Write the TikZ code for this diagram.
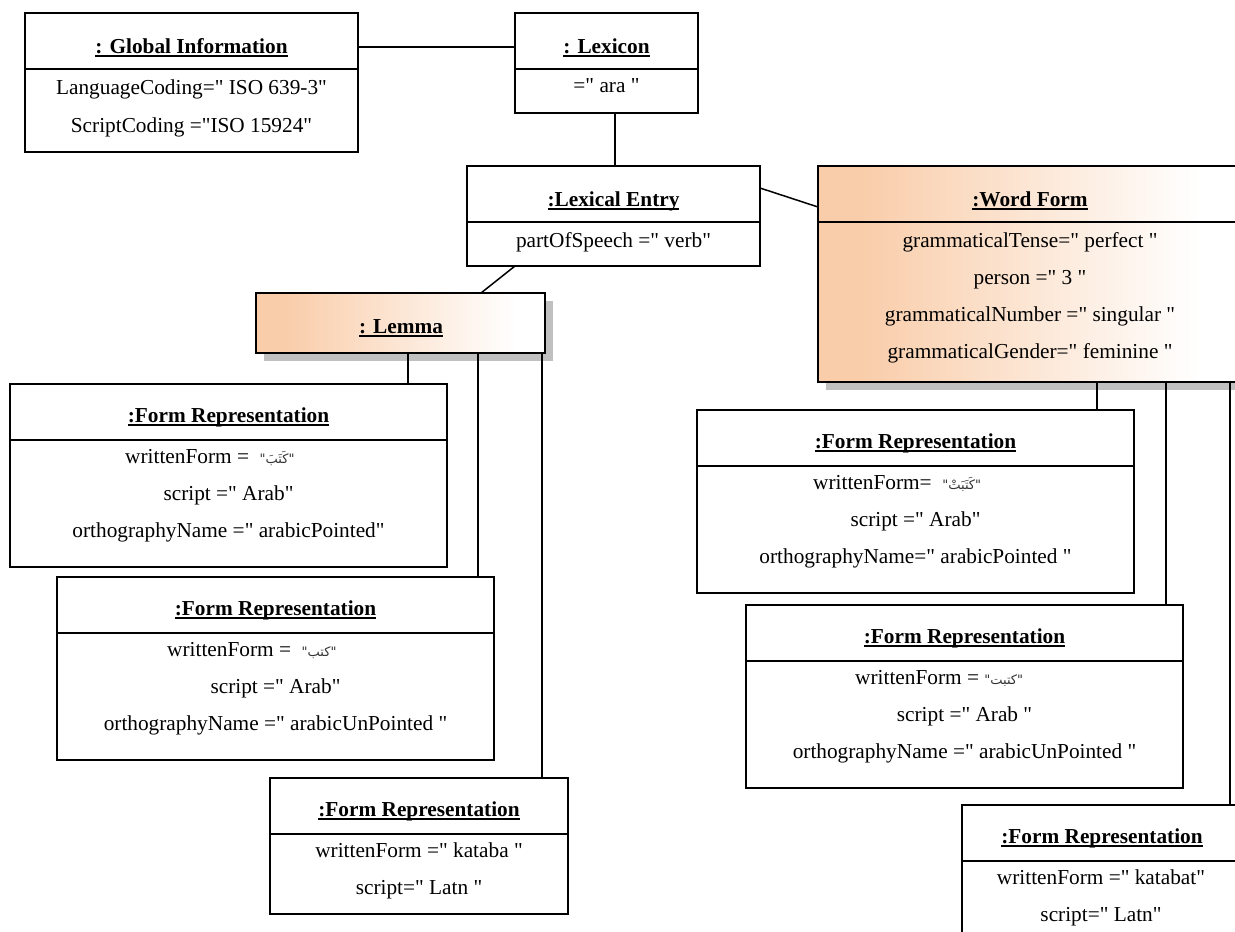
\documentclass[tikz,border=0pt]{standalone}
\usepackage{fontspec}
\setmainfont{Liberation Serif}[Ligatures=TeXOff]
\newfontfamily\arabicfont[Script=Arabic]{DejaVu Sans}
\TeXXeTstate=1
\usetikzlibrary{shadows}

\definecolor{peach}{RGB}{249,205,170}
\definecolor{shadowgray}{RGB}{192,192,192}
% horizontal fade used for the highlighted objects (25bp..75bp spans the box)
\pgfdeclarehorizontalshading{peachfade}{100bp}{color(0bp)=(peach); color(25bp)=(peach); color(30bp)=(peach); color(70bp)=(white); color(75bp)=(white); color(100bp)=(white)}

% underlined bold object title
\newsavebox{\ttlbox}
\newcommand{\objtitle}[1]{\sbox{\ttlbox}{#1}\usebox{\ttlbox}\llap{\rule[-4pt]{\wd\ttlbox}{1.8pt}}}
% small Arabic word in quotes
\newcommand{\arabword}[1]{{\arabicfont\fontsize{13}{15}\selectfont\color{black!80}"\beginR #1\endR"}}

% object box: [style] name, x1, y1, x2, y2
\newcommand{\objbox}[6][]{%
  \node[obj,#1,minimum width={(#5-#3)*1pt},minimum height={(#6-#4)*1pt}] (#2) at ({(#3+#5)/2},{(#4+#6)/2}) {};}
% compartment divider, offset below the top edge
\newcommand{\objdivider}[2]{\draw[link] ([yshift=-#2pt]#1.north west) -- ([yshift=-#2pt]#1.north east);}

\begin{document}
\begin{tikzpicture}[x=1pt,y=-1pt,
  font=\fontsize{21.3}{25}\selectfont,
  obj/.style={draw, line width=1.5pt, fill=white, inner sep=0pt, outer sep=0pt},
  faded/.style={shading=peachfade},
  shadowed/.style={drop shadow={shadow xshift=8pt,shadow yshift=-8pt,fill=shadowgray,opacity=1}},
  ttl/.style={anchor=base, inner sep=0pt, font=\bfseries\fontsize{21.3}{25}\selectfont},
  attr/.style={anchor=base, inner sep=0pt},
  attrw/.style={anchor=base west, inner sep=0pt},
  link/.style={line width=1.5pt}]

\useasboundingbox (0,0) rectangle (1235,932);
\fill[white] (0,0) rectangle (1235,932);
\clip (0,0) rectangle (1235,932);

% ---- Global Information ----
\objbox{gi}{25}{13}{358}{152}
\objdivider{gi}{56}
\node[ttl] (gi-t) at (191.5,53) {\objtitle{: Global Information}};
\node[attr] (gi-a1) at (191.5,94) {LanguageCoding=" ISO 639-3"};
\node[attr] (gi-a2) at (191.5,132) {ScriptCoding ="ISO 15924"};

% ---- Lexicon ----
\objbox{lex}{515}{13}{698}{113}
\objdivider{lex}{56}
\node[ttl] (lex-t) at (606.5,53) {\objtitle{: Lexicon}};
\node[attr] (lex-a1) at (606.5,92) {=" ara "};

% ---- Lexical Entry ----
\objbox{le}{467}{166}{760}{266}
\objdivider{le}{56}
\node[ttl] (le-t) at (613.5,206) {\objtitle{:Lexical Entry}};
\node[attr] (le-a1) at (613.5,247) {partOfSpeech =" verb"};

% ---- Word Form ----
\objbox[faded,shadowed]{wf}{818}{166}{1242}{382}
\objdivider{wf}{56}
\node[ttl] (wf-t) at (1030,206) {\objtitle{:Word Form}};
\node[attr] (wf-a1) at (1030,247) {grammaticalTense=" perfect "};
\node[attr] (wf-a2) at (1030,284) {person =" 3 "};
\node[attr] (wf-a3) at (1030,321) {grammaticalNumber =" singular "};
\node[attr] (wf-a4) at (1030,358) {grammaticalGender=" feminine "};

% ---- Lemma ----
\objbox[faded,shadowed]{lem}{256}{293}{545}{353}
\node[ttl] (lem-t) at (401,333) {\objtitle{: Lemma}};

% ---- Form representations of the lemma ----
\objbox{fr1}{10}{384}{447}{567}
\objdivider{fr1}{56}
\node[ttl] (fr1-t) at (228.5,422) {\objtitle{:Form Representation}};
\node[attrw] (fr1-a1) at (125,463) {writtenForm =\ \ \arabword{كَتَبَ}};
\node[attr] (fr1-a2) at (228.5,500) {script =" Arab"};
\node[attr] (fr1-a3) at (228.5,537) {orthographyName =" arabicPointed"};

\objbox{fr2}{57}{577}{494}{760}
\objdivider{fr2}{56}
\node[ttl] (fr2-t) at (275.5,615) {\objtitle{:Form Representation}};
\node[attrw] (fr2-a1) at (167,656) {writtenForm =\ \ \arabword{كتب}};
\node[attr] (fr2-a2) at (275.5,693) {script =" Arab"};
\node[attr] (fr2-a3) at (275.5,730) {orthographyName =" arabicUnPointed "};

\objbox{fr3}{270}{778}{568}{914}
\objdivider{fr3}{56}
\node[ttl] (fr3-t) at (419,816) {\objtitle{:Form Representation}};
\node[attr] (fr3-a1) at (419,857) {writtenForm =" kataba "};
\node[attr] (fr3-a2) at (419,894) {script=" Latn "};

% ---- Form representations of the word form ----
\objbox{fr4}{697}{410}{1134}{593}
\objdivider{fr4}{56}
\node[ttl] (fr4-t) at (915.5,448) {\objtitle{:Form Representation}};
\node[attrw] (fr4-a1) at (813,489) {writtenForm=\ \ \arabword{كَتَبَتْ}};
\node[attr] (fr4-a2) at (915.5,526) {script =" Arab"};
\node[attr] (fr4-a3) at (915.5,563) {orthographyName=" arabicPointed "};

\objbox{fr5}{746}{605}{1183}{788}
\objdivider{fr5}{56}
\node[ttl] (fr5-t) at (964.5,643) {\objtitle{:Form Representation}};
\node[attrw] (fr5-a1) at (855,684) {writtenForm = \arabword{كتبت}};
\node[attr] (fr5-a2) at (964.5,721) {script =" Arab "};
\node[attr] (fr5-a3) at (964.5,758) {orthographyName =" arabicUnPointed "};

\objbox{fr6}{962}{805}{1245}{960}
\objdivider{fr6}{56}
\node[ttl] (fr6-t) at (1102,843) {\objtitle{:Form Representation}};
\node[attr] (fr6-a1) at (1101,884) {writtenForm =" katabat"};
\node[attr] (fr6-a2) at (1101,921) {script=" Latn"};

% ---- links ----
\draw[link] ([yshift=-34pt]gi.north east) -- ([yshift=-34pt]lex.north west);
\draw[link] ([xshift=1.5pt]le.north) -- ([xshift=1.5pt]le.north |- lex.south);
\draw[link] ([xshift=48pt]le.south west) -- ([xshift=225pt]lem.north west);
\draw[link] ([yshift=-22pt]le.north east) -- ([yshift=-41pt]wf.north west);

\coordinate (l1) at ([xshift=152pt]lem.south west);
\coordinate (l2) at ([xshift=222pt]lem.south west);
\coordinate (l3) at ([xshift=286pt]lem.south west);
\draw[link] (l1) -- (l1 |- fr1.north);
\draw[link] (l2) -- (l2 |- fr2.north);
\draw[link] (l3) -- (l3 |- fr3.north);

\coordinate (w1) at ([xshift=279pt]wf.south west);
\coordinate (w2) at ([xshift=348pt]wf.south west);
\coordinate (w3) at ([xshift=412pt]wf.south west);
\draw[link] (w1) -- (w1 |- fr4.north);
\draw[link] (w2) -- (w2 |- fr5.north);
\draw[link] (w3) -- (w3 |- fr6.north);
\end{tikzpicture}
\end{document}
